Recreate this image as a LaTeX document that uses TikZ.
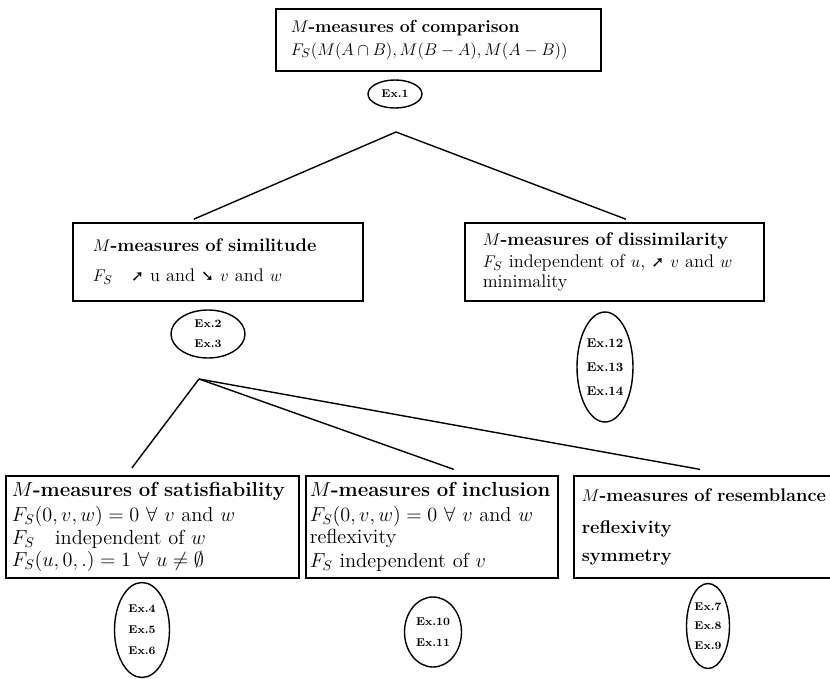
\documentclass[tikz,border=0pt]{standalone}
\usepackage{amssymb}
\usepackage{amsmath}
\usepackage{fontspec}
\newfontfamily\arrowfont{DejaVu Sans}
\usetikzlibrary{shapes.geometric}

\newcommand{\uparr}{{\arrowfont\fontsize{11}{11}\selectfont ➚}}
\newcommand{\downarr}{{\arrowfont\fontsize{11}{11}\selectfont ➘}}

\begin{document}
\begin{tikzpicture}[
  measure/.style={draw, rectangle, line width=1.1pt, inner ysep=0.1cm, align=left, anchor=north west, font=\fontsize{13}{15}\selectfont},
  example/.style={draw, ellipse, line width=1pt, inner sep=0pt, align=center, font=\fontsize{8}{10}\selectfont\bfseries},
  branch/.style={line width=1pt, black},
]
\useasboundingbox (0,0) rectangle (20.75,-16.975);

\node (comparison) [measure, inner xsep=0.375cm, text width=7.375cm, minimum height=1.55cm, font=\fontsize{12.5}{15}\selectfont] at (6.875,-0.2)
  {$M$\textbf{-measures of comparison}\\[1pt] $F_S(M(A\cap B), M(B-A), M(A-B))$};
\node (ex1) [example, minimum width=1.35cm, minimum height=0.7cm] at (9.875,-2.35) {Ex.1};

\node (similitude) [measure, inner xsep=0.5cm, text width=6.25cm, minimum height=1.95cm] at (1.8,-5.55)
  {$M$\textbf{-measures of similitude}\\[6pt] $F_S$\quad \uparr\ u and \downarr\ $v$ and $w$};
\node (dissimilarity) [measure, inner xsep=0.45cm, text width=6.575cm, minimum height=1.95cm] at (11.6,-5.55)
  {$M$\textbf{-measures of dissimilarity}\\[1pt] $F_S$ independent of $u$, \uparr\ $v$ and $w$\\[-1pt] minimality};
\node (ex23) [example, minimum width=1.85cm, minimum height=1.2cm] at (5.2,-8.35) {Ex.2\\[4pt]Ex.3};
\node (ex1214) [example, minimum width=1.4cm, minimum height=2.75cm, font=\fontsize{9}{11}\selectfont\bfseries] at (15.125,-9.175) {Ex.12\\[6pt]Ex.13\\[6pt]Ex.14};

\node (satisfiability) [measure, inner xsep=0.15cm, text width=7.025cm, minimum height=2.55cm, font=\fontsize{14.5}{16}\selectfont] at (0.125,-11.875)
  {$M$\textbf{-measures of satisfiability}\\[2pt] $F_S(0,v,w)=0\ \forall\ v$ and $w$\\ $F_S$\quad independent of $w$\\ $F_S(u,0,.)=1\ \forall\ u\neq\emptyset$};
\node (inclusion) [measure, inner xsep=0.1cm, text width=6.1cm, minimum height=2.55cm, font=\fontsize{14.5}{16}\selectfont] at (7.625,-11.875)
  {$M$\textbf{-measures of inclusion}\\[2pt] $F_S(0,v,w)=0\ \forall\ v$ and $w$\\ reflexivity\\[1pt] $F_S$ independent of $v$};
\node (resemblance) [measure, inner xsep=0.2cm, text width=7.6cm, minimum height=2.55cm, font=\fontsize{13}{14}\selectfont] at (14.325,-11.875)
  {$M$\textbf{-measures of resemblance}\\[9pt] \textbf{reflexivity}\\[6pt] \textbf{symmetry}};

\node (ex46) [example, minimum width=1.375cm, minimum height=2.375cm] at (3.55,-15.75) {Ex.4\\[5pt]Ex.5\\[5pt]Ex.6};
\node (ex1011) [example, minimum width=1.425cm, minimum height=1.75cm] at (10.825,-15.8) {Ex.10\\[5pt]Ex.11};
\node (ex79) [example, minimum width=1.075cm, minimum height=2.125cm] at (17.7,-15.65) {Ex.7\\[4pt]Ex.8\\[4pt]Ex.9};

\coordinate (split1) at (9.9,-3.3);
\coordinate (split2) at (4.975,-9.475);

\draw[branch] ([xshift=-0.6cm,yshift=2pt]similitude.north) -- (split1) -- ([xshift=0.29cm,yshift=2pt]dissimilarity.north);
\draw[branch] ([xshift=-0.51cm,yshift=5pt]satisfiability.north) -- (split2);
\draw[branch] ([xshift=0.55cm,yshift=4pt]inclusion.north) -- (split2);
\draw[branch] ([xshift=3.175cm,yshift=4pt]resemblance.north west) -- (split2);
\end{tikzpicture}
\end{document}
